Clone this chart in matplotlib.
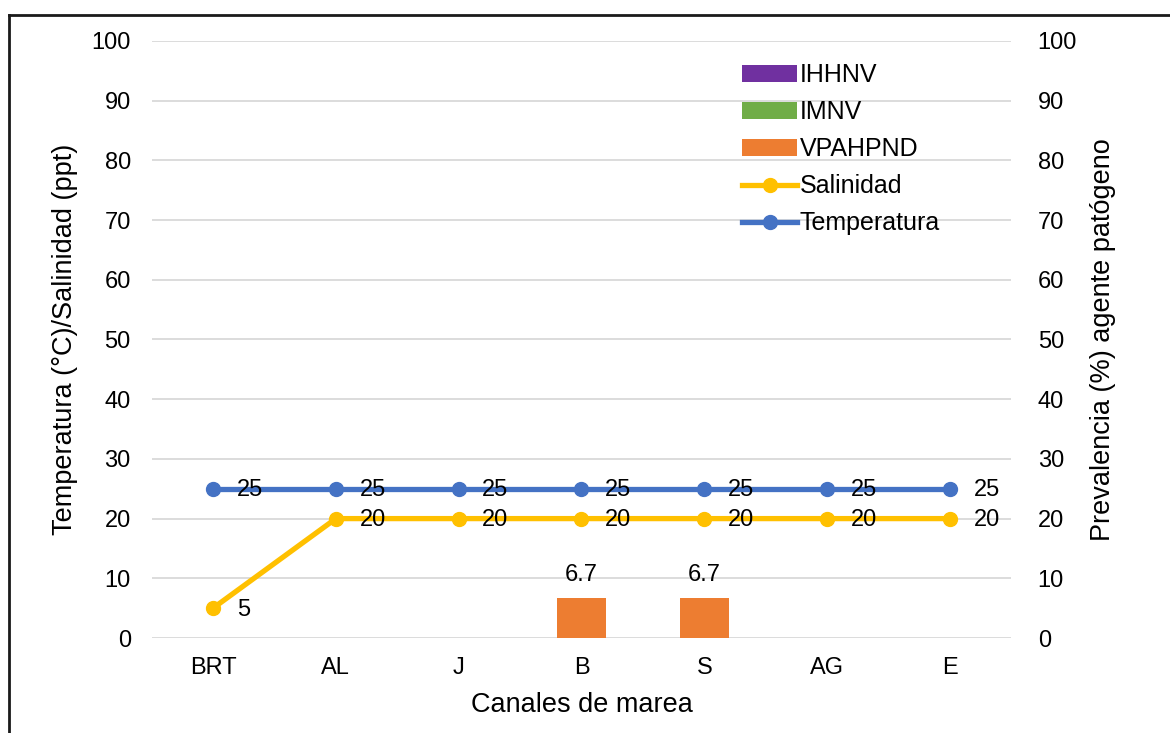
import matplotlib.pyplot as plt
from matplotlib.lines import Line2D

plt.rcParams['font.family'] = ['Liberation Sans', 'DejaVu Sans']

# data
canales = ['BRT', 'AL', 'J', 'B', 'S', 'AG', 'E']
ihhnv = [0, 0, 0, 0, 0, 0, 0]
imnv = [0, 0, 0, 0, 0, 0, 0]
vpahpnd = [0, 0, 0, 6.7, 6.7, 0, 0]
salinidad = [5, 20, 20, 20, 20, 20, 20]
temperatura = [25, 25, 25, 25, 25, 25, 25]

c_ihhnv = '#7030A0'
c_imnv = '#70AD47'
c_vp = '#ED7D31'
c_sal = '#FFC000'
c_temp = '#4472C4'

fs = 17
fs_title = 19.5

fig = plt.figure(figsize=(11.7, 7.33), dpi=100)
ax = fig.add_axes([0.1296, 0.1296, 0.7348, 0.8145])
ax2 = ax.twinx()

x = list(range(len(canales)))

# bars on the right axis, lines on the left axis
ax.set_zorder(ax2.get_zorder() + 1)
ax.patch.set_visible(False)

ax2.bar(x, ihhnv, width=0.4, color=c_ihhnv, label='IHHNV')
ax2.bar(x, imnv, width=0.4, color=c_imnv, label='IMNV')
ax2.bar(x, vpahpnd, width=0.4, color=c_vp, label='VPAHPND')
for xi, v in zip(x, vpahpnd):
    if v > 0:
        ax2.annotate(f'{v:.1f}', (xi, v), xytext=(0, 9), textcoords='offset points',
                     ha='center', va='bottom', fontsize=fs)

ax.plot(x, salinidad, color=c_sal, lw=3.8, marker='o', ms=10, label='Salinidad')
ax.plot(x, temperatura, color=c_temp, lw=3.8, marker='o', ms=10, label='Temperatura')
for xi, v in zip(x, salinidad):
    ax.annotate(f'{v}', (xi, v), xytext=(17, -1), textcoords='offset points',
                ha='left', va='center', fontsize=fs)
for xi, v in zip(x, temperatura):
    ax.annotate(f'{v}', (xi, v), xytext=(17, -1), textcoords='offset points',
                ha='left', va='center', fontsize=fs)

for a in (ax, ax2):
    a.set_ylim(0, 100)
    a.set_yticks(range(0, 101, 10))
    a.set_xlim(-0.5, len(canales) - 0.5)
    for s in a.spines.values():
        s.set_visible(False)
    a.tick_params(length=0, labelsize=fs)

ax2.grid(axis='y', color='#d9d9d9', lw=1.3)
ax2.set_axisbelow(True)
ax.tick_params(axis='y', pad=15)
ax2.tick_params(axis='y', pad=19)
ax.tick_params(axis='x', pad=14)
ax.set_xticks(x)
ax.set_xticklabels(canales)

ax.set_ylabel('Temperatura (°C)/Salinidad (ppt)', fontsize=fs_title, labelpad=10)
ax2.set_ylabel('Prevalencia (%) agente patógeno', fontsize=fs_title, labelpad=9)
ax.set_xlabel('Canales de marea', fontsize=fs_title, labelpad=9)

h1, l1 = ax2.get_legend_handles_labels()
h2, l2 = ax.get_legend_handles_labels()
ax.legend(h1 + h2, l1 + l2, loc='upper left', bbox_to_anchor=(0.661, 1.0),
          frameon=False, fontsize=18, handlelength=2.2, handletextpad=0.1,
          labelspacing=0.52)

# outer frame (extends past right and bottom edges)
fig.add_artist(Line2D([0.0075, 0.0075], [0, 0.979], color='#1a1a1a', lw=2))
fig.add_artist(Line2D([0.0075, 1.0], [0.979, 0.979], color='#1a1a1a', lw=2))

fig.savefig('out.png', dpi=100)
